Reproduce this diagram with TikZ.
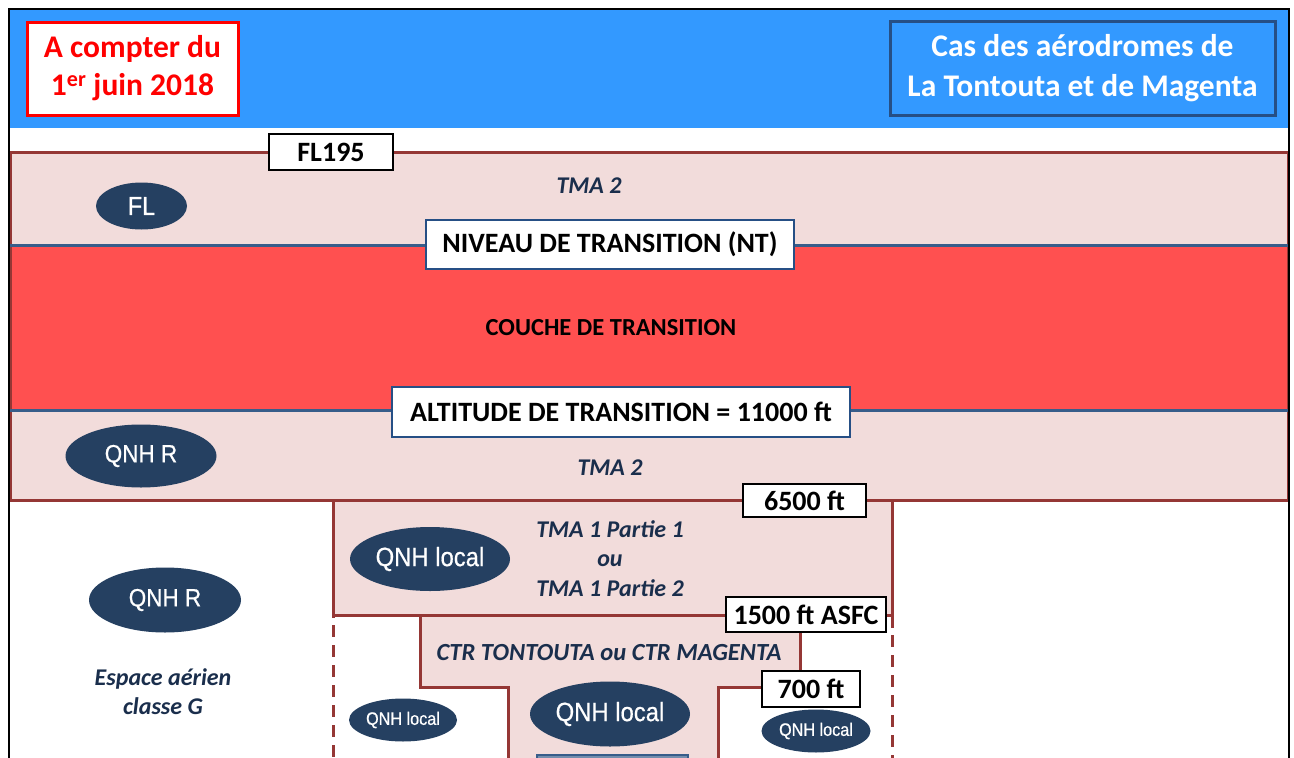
\documentclass[tikz,border=0pt]{standalone}
\usepackage{fontspec}
\setmainfont{Carlito}
\newfontfamily\narrowfont[FakeStretch=0.9,FakeBold=0.6]{Liberation Sans}
\usetikzlibrary{shapes.geometric}
\definecolor{bandblue}{HTML}{3399FF}
\definecolor{boxblue}{HTML}{264F85}
\definecolor{pinkfill}{HTML}{F2DCDB}
\definecolor{darkred}{HTML}{953735}
\definecolor{bandred}{HTML}{FF5050}
\definecolor{lineblue}{HTML}{385D8A}
\definecolor{navy}{HTML}{254061}
\definecolor{navytext}{HTML}{1A2E4C}
\tikzset{
  lbl/.style={draw=black, line width=1.8pt, fill=white, inner sep=0pt, font=\fontsize{28}{32}\selectfont\bfseries},
  bluelbl/.style={draw=boxblue, line width=2.2pt, fill=white, inner sep=0pt, font=\fontsize{28}{32}\selectfont\bfseries},
  ell/.style={ellipse, fill=navy, text=white, inner sep=0pt},
  zonetxt/.style={text=navytext, font=\fontsize{24}{29.5}\selectfont\bfseries\itshape, align=center},
  zoneline/.style={draw=darkred, line width=3pt},
  dashline/.style={draw=darkred, line width=3pt, dash pattern=on 12pt off 8pt}
}
\begin{document}
\begin{tikzpicture}[x=1pt,y=-1pt]
\useasboundingbox (0,0) rectangle (1294,758);
\clip (0,0) rectangle (1294,758);
\fill[white] (0,0) rectangle (1294,758);
% ---- fills
\fill[bandblue] (9,9) rectangle (1289,128);
\fill[pinkfill] (10,152) rectangle (1288,500);
\fill[bandred] (10,245) rectangle (1288,410);
\fill[pinkfill] (333,500) rectangle (892,615);
\fill[pinkfill] (420,615) -- (800,615) -- (800,687) -- (718,687) -- (718,770) -- (508,770) -- (508,687) -- (420,687) -- cycle;
% ---- zone limits
\draw[zoneline] (10,152) rectangle (1288,500);
\draw[lineblue, line width=3pt] (10,245) -- (1288,245);
\draw[lineblue, line width=3pt] (10,410) -- (1288,410);
\draw[zoneline] (333,500) -- (333,618);
\draw[zoneline] (892,500) -- (892,628);
\draw[zoneline] (333,615) -- (892,615);
\draw[zoneline] (420,615) -- (420,687) -- (508,687) -- (508,770);
\draw[zoneline] (800,615) -- (800,687) -- (718,687) -- (718,770);
\draw[dashline] (333,625) -- (333,770);
\draw[dashline] (892,635) -- (892,770);
% aerodrome
\draw[lineblue, line width=2.5pt, fill=lineblue!70] (537,755) rectangle (688,775);
% frame
\draw[black, line width=2.5pt] (9,800) -- (9,9) -- (1289,9) -- (1289,800);
% header boxes
\node[draw=red, line width=3pt, fill=white, minimum width=211, minimum height=93, inner sep=0pt] (date) at (132.5,68.5) {};
\node[text=red, font=\fontsize{31.5}{38}\selectfont\bfseries, align=center] (datetxt) at (132.5,68) {A compter du\\1\textsuperscript{er} juin 2018};
\node[draw=boxblue, line width=3pt, fill=bandblue, minimum width=385, minimum height=94, inner sep=0pt] (cas) at (1082.5,68) {};
\node[text=white, font=\fontsize{31.5}{40}\selectfont\bfseries, align=center] (castxt) at (1082.5,68) {Cas des aérodromes de\\La Tontouta et de Magenta};
% level labels
\node[lbl, minimum width=124, minimum height=36] (fl195) at (331,152) {FL195};
\node[bluelbl, minimum width=368, minimum height=49] (nt) at (610,244.5) {NIVEAU DE TRANSITION (NT)};
\node[font=\fontsize{24.5}{28}\selectfont\bfseries] (couche) at (611,328) {COUCHE DE TRANSITION};
\node[bluelbl, minimum width=458, minimum height=50] (at) at (621,412) {ALTITUDE DE TRANSITION = 11000 ft};
\node[lbl, minimum width=123, minimum height=33] (l6500) at (804.5,500.5) {6500 ft};
\node[lbl, minimum width=160, minimum height=35] (l1500) at (806,614.5) {1500 ft ASFC};
\node[lbl, minimum width=98, minimum height=36] (l700) at (811,689) {700 ft};
% zone names
\node[zonetxt] (tma2a) at (589,186) {TMA 2};
\node[zonetxt] (tma2b) at (610,468) {TMA 2};
\node[zonetxt] (tma1) at (610,558.5) {TMA 1 Partie 1\\ou\\TMA 1 Partie 2};
\node[zonetxt, font=\fontsize{24.6}{29.5}\selectfont\bfseries\itshape] (ctr) at (609,653) {CTR TONTOUTA ou CTR MAGENTA};
\node[text=navytext, font=\fontsize{24}{29}\selectfont\bfseries\itshape, align=center] (classg) at (163,692) {Espace aérien\\classe G};
% ellipses
\node[ell, minimum width=91, minimum height=47, font=\fontsize{26}{30}\narrowfont] (efl) at (141.5,206) {FL};
\node[ell, minimum width=151, minimum height=63, font=\fontsize{25}{30}\narrowfont] (eqnhr1) at (141,456) {QNH R};
\node[ell, minimum width=152, minimum height=65, font=\fontsize{25}{30}\narrowfont] (eqnhr2) at (165,600) {QNH R};
\node[ell, minimum width=160, minimum height=64, font=\fontsize{26.5}{30}\narrowfont] (eql1) at (430,559) {QNH local};
\node[ell, minimum width=160, minimum height=65, font=\fontsize{26.5}{30}\narrowfont] (eql2) at (610,714) {QNH local};
\node[ell, minimum width=108, minimum height=43, font=\fontsize{18}{22}\narrowfont] (eql3) at (403,720) {QNH local};
\node[ell, minimum width=109, minimum height=43, font=\fontsize{18}{22}\narrowfont] (eql4) at (816,731) {QNH local};
\end{tikzpicture}
\end{document}
